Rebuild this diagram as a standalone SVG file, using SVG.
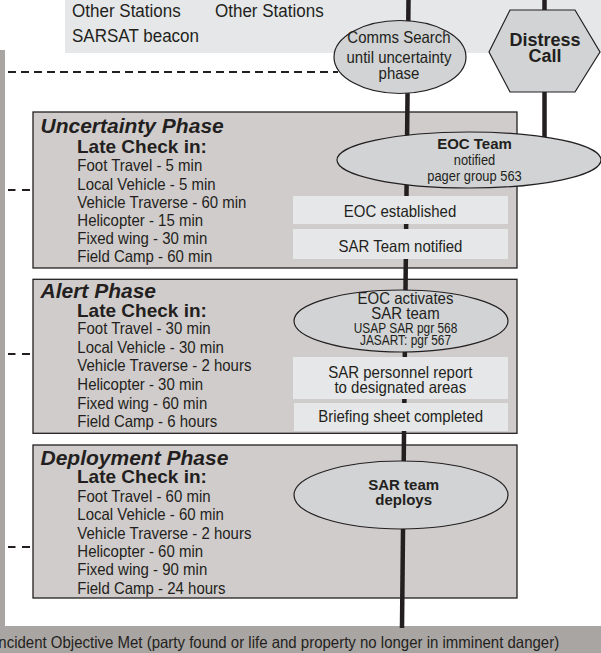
<svg xmlns="http://www.w3.org/2000/svg" width="601" height="653" viewBox="0 0 601 653">
<style>
.bg{fill:#a9a5a2}
.top{fill:#e6e7e8}
.phase{fill:#d0cccb;stroke:#231f20;stroke-width:1.3}
.ell{fill:#d1d3d4;stroke:#231f20;stroke-width:1.2}
.box{fill:#e6e7e8}
.ln{stroke:#231f20;stroke-width:4.5;fill:none}
.dash{stroke:#231f20;stroke-width:2;fill:none}
text{font-family:"Liberation Sans",Arial,sans-serif;fill:#231f20}
.n{font-size:16.3px}
.s{font-size:14px}
.b{font-weight:bold}
.ti{font-size:21px;font-weight:bold;font-style:italic}
.lt{font-size:19px;font-weight:bold}
.m{text-anchor:middle}
</style>
<rect class="top" x="65" y="0" width="536" height="53"/>
<rect class="bg" x="0" y="50" width="5" height="578"/>
<rect class="bg" x="0" y="626" width="601" height="27"/>
<g transform="translate(0 0) scale(0.92 1)">
<text class="n" x="78.3" y="17.5" style="font-size:18.5px">Other Stations</text>
<text class="n" x="233.7" y="17.5" style="font-size:18.5px">Other Stations</text>
<text class="n" x="78.3" y="42.5" style="font-size:18.5px">SARSAT beacon</text>
</g>
<text class="n" transform="translate(-5.8 648.3) scale(0.92 1)">Incident Objective Met (party found or life and property no longer in imminent danger)</text>

<g id="uncertainty">
<rect class="phase" x="33" y="112" width="484" height="156"/>
<text class="ti" x="40.5" y="132.5">Uncertainty Phase</text>
<text class="lt" x="77" y="152.5">Late Check in:</text>
<g transform="translate(77.3 0) scale(0.92 1)">
<text class="n" x="0" y="171.5">Foot Travel - 5 min</text>
<text class="n" x="0" y="189.7">Local Vehicle - 5 min</text>
<text class="n" x="0" y="207.9">Vehicle Traverse - 60 min</text>
<text class="n" x="0" y="226.1">Helicopter - 15 min</text>
<text class="n" x="0" y="244.3">Fixed wing - 30 min</text>
<text class="n" x="0" y="262.5">Field Camp - 60 min</text>
</g>
</g>
<g id="alert">
<rect class="phase" x="33" y="279.3" width="484" height="154"/>
<text class="ti" x="40.5" y="298">Alert Phase</text>
<text class="lt" x="77" y="316.7">Late Check in:</text>
<g transform="translate(77.3 0) scale(0.92 1)">
<text class="n" x="0" y="334">Foot Travel - 30 min</text>
<text class="n" x="0" y="352.7">Local Vehicle - 30 min</text>
<text class="n" x="0" y="371.3">Vehicle Traverse - 2 hours</text>
<text class="n" x="0" y="390">Helicopter - 30 min</text>
<text class="n" x="0" y="408.7">Fixed wing - 60 min</text>
<text class="n" x="0" y="427.3">Field Camp - 6 hours</text>
</g>
</g>
<g id="deployment">
<rect class="phase" x="33" y="445" width="484" height="153"/>
<text class="ti" x="40.5" y="465">Deployment Phase</text>
<text class="lt" x="77" y="482.7">Late Check in:</text>
<g transform="translate(77.3 0) scale(0.92 1)">
<text class="n" x="0" y="501.7">Foot Travel - 60 min</text>
<text class="n" x="0" y="520.2">Local Vehicle - 60 min</text>
<text class="n" x="0" y="538.6">Vehicle Traverse - 2 hours</text>
<text class="n" x="0" y="557.1">Helicopter - 60 min</text>
<text class="n" x="0" y="575.5">Fixed wing - 90 min</text>
<text class="n" x="0" y="594">Field Camp - 24 hours</text>
</g>
</g>

<g id="connectors">
<line class="ln" x1="408.5" y1="0" x2="402" y2="628"/>
<line class="ln" x1="544.5" y1="0" x2="544.5" y2="12"/>
<line class="ln" x1="544.5" y1="90" x2="544.5" y2="145"/>
<line class="dash" x1="8" y1="72" x2="338" y2="72" stroke-dasharray="8 5"/>
<line class="dash" x1="8" y1="190" x2="15.5" y2="190"/>
<line class="dash" x1="22" y1="190" x2="30" y2="190"/>
<line class="dash" x1="8" y1="354" x2="15.5" y2="354"/>
<line class="dash" x1="22" y1="354" x2="30" y2="354"/>
<line class="dash" x1="8" y1="547" x2="15.5" y2="547"/>
<line class="dash" x1="22" y1="547" x2="30" y2="547"/>
</g>

<g id="comms">
<ellipse class="ell" cx="400" cy="57" rx="66" ry="36.5"/>
<g transform="translate(399 0) scale(0.92 1)">
<text class="n m" x="0" y="43.3">Comms Search</text>
<text class="n m" x="0" y="62.7">until uncertainty</text>
<text class="n m" x="0" y="79.3">phase</text>
</g>
</g>
<g id="distress">
<polygon class="ell" points="489,52 510,10 575,10 600,52 575,92 510,92"/>
<text class="b m" x="545" y="45.7" style="font-size:18px">Distress</text>
<text class="b m" x="545" y="61.7" style="font-size:18px">Call</text>
</g>
<g id="eocteam">
<ellipse class="ell" cx="469" cy="160" rx="132" ry="28"/>
<text class="b m" x="474.5" y="149" style="font-size:15px">EOC Team</text>
<g transform="translate(474.5 0) scale(0.92 1)">
<text class="s m" x="0" y="165">notified</text>
<text class="s m" x="0" y="181">pager group 563</text>
</g>
</g>
<g id="eocest">
<rect class="box" x="293" y="196" width="215" height="28"/>
<text class="n m" transform="translate(400 216.7) scale(0.92 1)">EOC established</text>
</g>
<g id="sarnotified">
<rect class="box" x="293" y="229" width="215" height="30"/>
<text class="n m" transform="translate(400.5 251.7) scale(0.92 1)">SAR Team notified</text>
</g>
<g id="eocactivates">
<ellipse class="ell" cx="401" cy="321" rx="107" ry="31"/>
<g transform="translate(405.5 0) scale(0.92 1)">
<text class="n m" x="0" y="304.3">EOC activates</text>
<text class="n m" x="0" y="319.3">SAR team</text>
</g>
<g transform="translate(405.5 0) scale(0.85 1)">
<text class="s m" x="0" y="333.3">USAP SAR pgr 568</text>
<text class="s m" x="0" y="345">JASART: pgr 567</text>
</g>
</g>
<g id="sarreport">
<rect class="box" x="293" y="357" width="215" height="42"/>
<g transform="translate(400.3 0) scale(0.92 1)">
<text class="n m" x="0" y="378">SAR personnel report</text>
<text class="n m" x="0" y="393.3">to designated areas</text>
</g>
</g>
<g id="briefing">
<rect class="box" x="294" y="403" width="214" height="28"/>
<text class="n m" transform="translate(400.7 421.7) scale(0.92 1)">Briefing sheet completed</text>
</g>
<g id="deploys">
<ellipse class="ell" cx="401" cy="495" rx="107" ry="34"/>
<text class="b m" x="403.7" y="490" style="font-size:15px">SAR team</text>
<text class="b m" x="403.7" y="504.5" style="font-size:15px">deploys</text>
</g>
</svg>
